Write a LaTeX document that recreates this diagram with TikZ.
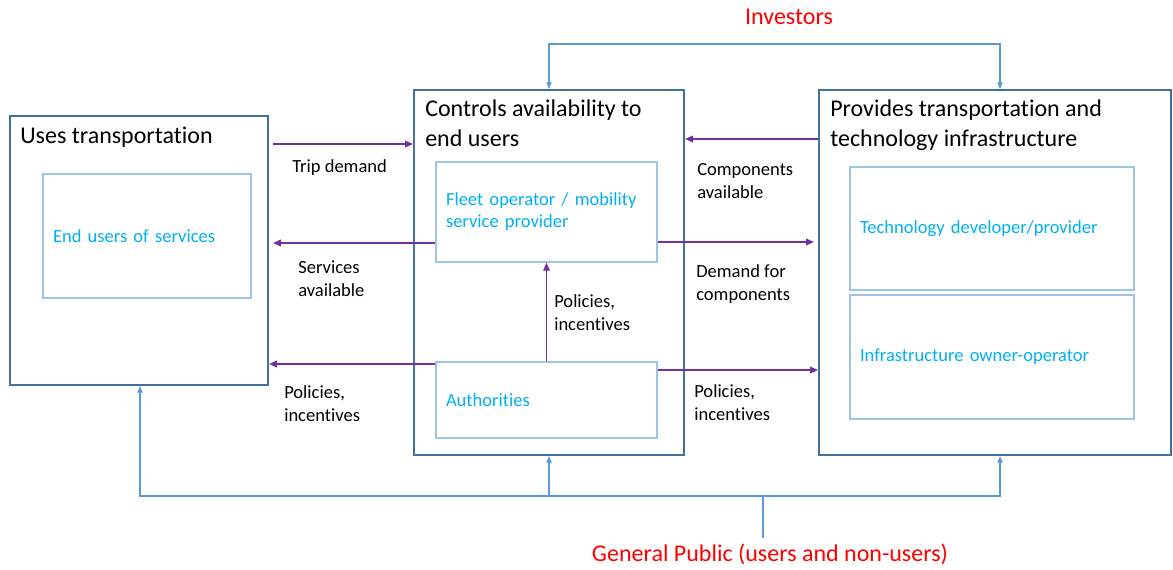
\documentclass[tikz,border=0pt]{standalone}
\usepackage{fontspec}
\setmainfont{Carlito}[Ligatures=NoCommon]
\usetikzlibrary{arrows.meta,calc}
\definecolor{frameblue}{HTML}{41719C}
\definecolor{innerblue}{HTML}{9DC3E6}
\definecolor{roletext}{HTML}{00B0F0}
\definecolor{flowpurple}{HTML}{7030A0}
\definecolor{linkblue}{HTML}{5B9BD5}
\definecolor{keyred}{HTML}{FF0000}

\begin{document}
\begin{tikzpicture}[x=0.75pt,y=-0.75pt,
  group/.style={draw=frameblue,line width=1.5pt,rectangle,inner sep=0pt},
  role/.style={draw=innerblue,line width=1.1pt,rectangle,inner xsep=7.5pt,inner ysep=0pt,
    align=left,text=roletext,font=\fontsize{13.9}{16.5}\selectfont},
  % multi-line texts are anchored on the baseline of their last line
  title/.style={anchor=base west,inner sep=0pt,align=left,font=\fontsize{18}{22.5}\selectfont},
  flowlabel/.style={anchor=base west,inner sep=0pt,align=left,font=\fontsize{13.9}{17.25}\selectfont},
  flow/.style={draw=flowpurple,line width=1.1pt,arrows={-Triangle[length=6pt,width=5pt]}},
  link/.style={draw=linkblue,line width=0.8pt},
  linkarrow/.style={link,arrows={-Triangle[length=5pt,width=4pt]}},
  linkboth/.style={link,arrows={Triangle[length=5pt,width=4pt]-Triangle[length=5pt,width=4pt]}},
  stakeholder/.style={text=keyred,font=\fontsize{18}{22}\selectfont,inner sep=0pt}
]
\useasboundingbox (0,0) rectangle (1173,569);

% the three stakeholder groups
\node[group,minimum width=193.5pt,minimum height=201.75pt] (users) at (139,250.5) {};
\node[group,minimum width=202.5pt,minimum height=273.75pt] (ctrl) at (549,272.5) {};
\node[group,minimum width=264pt,minimum height=273.75pt] (prov) at (995,272.5) {};

\node[title] (usersT) at (20,143) {Uses transportation};
\node[title] (ctrlT) at (425,146) {Controls availability to\\end users};
\node[title] (provT) at (830,146) {Provides transportation and\\technology infrastructure};

% roles inside each group
\node[role,minimum width=156pt,minimum height=93pt,text width=141pt] (endu) at (147,236) {End users of services};
\node[role,minimum width=165.75pt,minimum height=75pt,text width=150.75pt] (fleet) at (546.5,212) {Fleet operator / mobility\\service provider};
\node[role,minimum width=165.75pt,minimum height=57pt,text width=150.75pt] (auth) at (546.5,400) {Authorities};
\node[role,minimum width=213pt,minimum height=92.25pt,text width=198pt] (tech) at (992,228.5) {Technology developer/provider};
\node[role,minimum width=213pt,minimum height=93pt,text width=198pt] (infra) at (992,357) {Infrastructure owner-operator};

% flows between the groups
\draw[flow,shorten <=3pt] (users.east |- 0,144) -- (ctrl.west |- 0,144);
\draw[flow,shorten >=3pt] (fleet.west |- 0,243) -- (users.east |- 0,243);
\draw[flow] (auth.west |- 0,364) -- (users.east |- 0,364);
\draw[flow] (prov.west |- 0,139) -- (ctrl.east |- 0,139);
\draw[flow,shorten >=3pt] (fleet.east |- 0,242) -- (prov.west |- 0,242);
\draw[flow] (auth.east |- 0,370) -- (prov.west |- 0,370);
\draw[flow] (auth.north) -- (fleet.south);

\node[flowlabel] (lTrip) at (292,172) {Trip demand};
\node[flowlabel] (lServ) at (298,296) {Services\\available};
\node[flowlabel] (lPolL) at (284,421) {Policies,\\incentives};
\node[flowlabel] (lComp) at (697,198) {Components\\available};
\node[flowlabel] (lDem) at (696,300) {Demand for\\components};
\node[flowlabel] (lPolU) at (554,330) {Policies,\\incentives};
\node[flowlabel] (lPolR) at (694,420) {Policies,\\incentives};

% investors
\node[stakeholder] (inv) at (789,17) {Investors};
\coordinate (invbar) at (0,44);
\draw[linkboth] (ctrl.north) -- (ctrl.north |- invbar) -| ([xshift=3.75pt]prov.north);

% general public
\node[stakeholder] (pub) at (770,554) {General Public (users and non-users)};
\coordinate (pm) at (763,496);
\coordinate (pl) at (140,496);
\coordinate (pr) at (1000,496);
\draw[link,shorten <=4pt] (pub.north -| pm) -- (pm);
\draw[linkarrow] (pm) -- (pl) -- (users.south -| pl);
\draw[linkarrow] (pl -| ctrl.south) -- (ctrl.south);
\draw[linkarrow] (pm) -- (pr) -- (prov.south -| pr);
\end{tikzpicture}
\end{document}
